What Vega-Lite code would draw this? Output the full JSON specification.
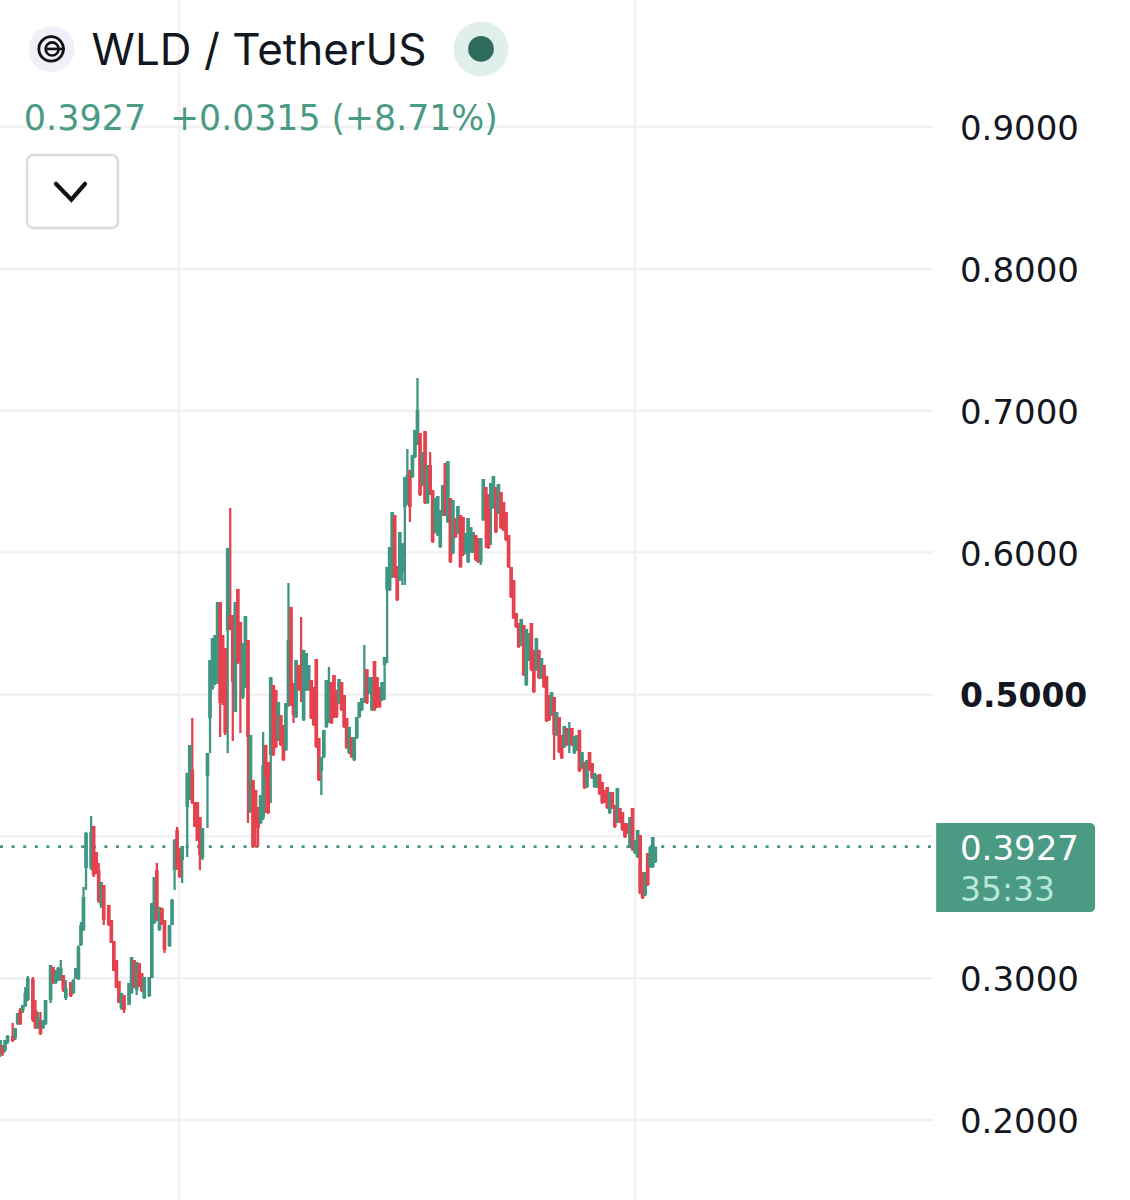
{
"$schema":"https://vega.github.io/schema/vega-lite/v6.json",
"autosize":{"type":"fit","contains":"padding"},
"width":1130,"height":1200,"padding":0,"background":"#ffffff",
"config":{"view":{"stroke":null},"font":"Inter"},
"datasets":{
"candles":[
{"t":0,"o":0.2458,"h":0.2564,"l":0.2444,"c":0.2564},{"t":1,"o":0.2529,"h":0.2529,"l":0.2451,"c":0.2465},{"t":2,"o":0.2494,"h":0.2564,"l":0.2479,"c":0.2564},{"t":3,"o":0.2550,"h":0.2599,"l":0.2536,"c":0.2592},{"t":5,"o":0.2592,"h":0.2684,"l":0.2550,"c":0.2557},{"t":6,"o":0.2578,"h":0.2649,"l":0.2564,"c":0.2649},{"t":7,"o":0.2677,"h":0.2754,"l":0.2670,"c":0.2754},{"t":8,"o":0.2776,"h":0.2790,"l":0.2670,"c":0.2677},{"t":9,"o":0.2769,"h":0.2811,"l":0.2754,"c":0.2811},{"t":10,"o":0.2804,"h":0.2938,"l":0.2797,"c":0.2896},
{"t":11,"o":0.2846,"h":0.3015,"l":0.2839,"c":0.3001},{"t":13,"o":0.2994,"h":0.3008,"l":0.2691,"c":0.2705},{"t":14,"o":0.2776,"h":0.2846,"l":0.2642,"c":0.2649},{"t":15,"o":0.2649,"h":0.2762,"l":0.2642,"c":0.2719},{"t":16,"o":0.2705,"h":0.2762,"l":0.2599,"c":0.2606},{"t":17,"o":0.2649,"h":0.2705,"l":0.2642,"c":0.2705},{"t":18,"o":0.2677,"h":0.2846,"l":0.2670,"c":0.2846},{"t":20,"o":0.2846,"h":0.3093,"l":0.2825,"c":0.3093},{"t":21,"o":0.3079,"h":0.3079,"l":0.2959,"c":0.2966},{"t":22,"o":0.2966,"h":0.3058,"l":0.2959,"c":0.3036},
{"t":23,"o":0.2987,"h":0.3079,"l":0.2980,"c":0.3072},{"t":24,"o":0.2994,"h":0.3128,"l":0.2980,"c":0.3072},{"t":25,"o":0.3022,"h":0.3022,"l":0.2903,"c":0.2917},{"t":26,"o":0.2860,"h":0.2987,"l":0.2846,"c":0.2931},{"t":28,"o":0.2973,"h":0.2973,"l":0.2867,"c":0.2874},{"t":29,"o":0.2896,"h":0.2994,"l":0.2889,"c":0.2987},{"t":30,"o":0.2994,"h":0.3072,"l":0.2994,"c":0.3072},{"t":31,"o":0.2994,"h":0.3234,"l":0.2987,"c":0.3220},{"t":32,"o":0.3234,"h":0.3396,"l":0.3227,"c":0.3375},{"t":33,"o":0.3340,"h":0.3643,"l":0.3333,"c":0.3572},
{"t":34,"o":0.3777,"h":0.4030,"l":0.3622,"c":0.4023},{"t":36,"o":0.3777,"h":0.4143,"l":0.3763,"c":0.4030},{"t":37,"o":0.4073,"h":0.4073,"l":0.3713,"c":0.3727},{"t":38,"o":0.3889,"h":0.3889,"l":0.3734,"c":0.3748},{"t":39,"o":0.3763,"h":0.3812,"l":0.3530,"c":0.3544},{"t":40,"o":0.3509,"h":0.3678,"l":0.3495,"c":0.3678},{"t":41,"o":0.3657,"h":0.3657,"l":0.3375,"c":0.3410},{"t":43,"o":0.3516,"h":0.3516,"l":0.3368,"c":0.3375},{"t":44,"o":0.3410,"h":0.3410,"l":0.3248,"c":0.3248},{"t":45,"o":0.3262,"h":0.3262,"l":0.3051,"c":0.3051},
{"t":46,"o":0.3128,"h":0.3128,"l":0.2931,"c":0.2931},{"t":47,"o":0.2980,"h":0.2980,"l":0.2825,"c":0.2825},{"t":48,"o":0.2790,"h":0.2896,"l":0.2776,"c":0.2896},{"t":49,"o":0.2881,"h":0.2881,"l":0.2754,"c":0.2776},{"t":51,"o":0.2811,"h":0.2966,"l":0.2811,"c":0.2966},{"t":52,"o":0.2896,"h":0.3149,"l":0.2889,"c":0.3149},{"t":53,"o":0.3128,"h":0.3128,"l":0.2931,"c":0.2931},{"t":54,"o":0.2917,"h":0.3114,"l":0.2881,"c":0.3114},{"t":55,"o":0.3107,"h":0.3107,"l":0.2938,"c":0.2945},{"t":56,"o":0.3036,"h":0.3036,"l":0.2903,"c":0.2910},
{"t":57,"o":0.2860,"h":0.3008,"l":0.2853,"c":0.3008},{"t":59,"o":0.2874,"h":0.3008,"l":0.2867,"c":0.3008},{"t":60,"o":0.3001,"h":0.3530,"l":0.3001,"c":0.3530},{"t":61,"o":0.3389,"h":0.3713,"l":0.3382,"c":0.3713},{"t":62,"o":0.3763,"h":0.3812,"l":0.3403,"c":0.3410},{"t":63,"o":0.3340,"h":0.3502,"l":0.3333,"c":0.3502},{"t":64,"o":0.3495,"h":0.3495,"l":0.3375,"c":0.3375},{"t":65,"o":0.3410,"h":0.3410,"l":0.3178,"c":0.3199},{"t":67,"o":0.3227,"h":0.3375,"l":0.3220,"c":0.3375},{"t":68,"o":0.3375,"h":0.3558,"l":0.3375,"c":0.3551},
{"t":69,"o":0.3763,"h":0.3981,"l":0.3622,"c":0.3974},{"t":70,"o":0.4045,"h":0.4066,"l":0.3763,"c":0.3777},{"t":71,"o":0.3882,"h":0.3918,"l":0.3706,"c":0.3713},{"t":72,"o":0.3833,"h":0.3932,"l":0.3671,"c":0.3932},{"t":74,"o":0.4207,"h":0.4447,"l":0.3854,"c":0.4447},{"t":75,"o":0.4277,"h":0.4644,"l":0.4256,"c":0.4644},{"t":76,"o":0.4468,"h":0.4834,"l":0.4228,"c":0.4235},{"t":77,"o":0.4242,"h":0.4242,"l":0.4066,"c":0.4066},{"t":78,"o":0.4242,"h":0.4242,"l":0.3967,"c":0.3967},{"t":79,"o":0.4136,"h":0.4136,"l":0.3763,"c":0.3868},
{"t":80,"o":0.3847,"h":0.4059,"l":0.3833,"c":0.4059},{"t":82,"o":0.4425,"h":0.4587,"l":0.4059,"c":0.4587},{"t":83,"o":0.4834,"h":0.5243,"l":0.4587,"c":0.5243},{"t":84,"o":0.5046,"h":0.5398,"l":0.5032,"c":0.5398},{"t":85,"o":0.5081,"h":0.5419,"l":0.5067,"c":0.5419},{"t":86,"o":0.5081,"h":0.5652,"l":0.5074,"c":0.5652},{"t":87,"o":0.5652,"h":0.5652,"l":0.4700,"c":0.4940},{"t":88,"o":0.5419,"h":0.5419,"l":0.4926,"c":0.4940},{"t":89,"o":0.5328,"h":0.5328,"l":0.4714,"c":0.4728},{"t":90,"o":0.5454,"h":0.6033,"l":0.4587,"c":0.6033},
{"t":91,"o":0.5560,"h":0.6315,"l":0.5454,"c":0.5454},{"t":92,"o":0.5560,"h":0.5560,"l":0.4672,"c":0.5088},{"t":93,"o":0.4876,"h":0.5652,"l":0.4876,"c":0.5652},{"t":94,"o":0.5744,"h":0.5744,"l":0.5215,"c":0.5229},{"t":95,"o":0.5511,"h":0.5511,"l":0.4728,"c":0.5229},{"t":96,"o":0.4982,"h":0.5363,"l":0.4968,"c":0.5363},{"t":97,"o":0.5053,"h":0.5553,"l":0.5046,"c":0.5553},{"t":98,"o":0.5384,"h":0.5384,"l":0.4094,"c":0.4700},{"t":99,"o":0.4171,"h":0.4714,"l":0.4164,"c":0.4714},{"t":100,"o":0.4397,"h":0.4397,"l":0.3918,"c":0.3925},
{"t":101,"o":0.4327,"h":0.4327,"l":0.3925,"c":0.4059},{"t":102,"o":0.4207,"h":0.4207,"l":0.3925,"c":0.4059},{"t":103,"o":0.4094,"h":0.4291,"l":0.4087,"c":0.4291},{"t":104,"o":0.4129,"h":0.4735,"l":0.4115,"c":0.4503},{"t":105,"o":0.4644,"h":0.4644,"l":0.4164,"c":0.4418},{"t":106,"o":0.4524,"h":0.4524,"l":0.4157,"c":0.4164},{"t":107,"o":0.4573,"h":0.5123,"l":0.4235,"c":0.5123},{"t":108,"o":0.5067,"h":0.5067,"l":0.4566,"c":0.4573},{"t":109,"o":0.5032,"h":0.5032,"l":0.4623,"c":0.4630},{"t":110,"o":0.4679,"h":0.4947,"l":0.4672,"c":0.4947},
{"t":111,"o":0.4855,"h":0.4855,"l":0.4637,"c":0.4644},{"t":112,"o":0.4785,"h":0.4785,"l":0.4531,"c":0.4538},{"t":113,"o":0.4609,"h":0.4940,"l":0.4602,"c":0.4940},{"t":114,"o":0.4926,"h":0.5786,"l":0.4912,"c":0.5384},{"t":115,"o":0.5617,"h":0.5617,"l":0.4919,"c":0.4926},{"t":116,"o":0.5081,"h":0.5081,"l":0.4799,"c":0.4855},{"t":117,"o":0.4841,"h":0.5243,"l":0.4834,"c":0.5243},{"t":118,"o":0.5208,"h":0.5208,"l":0.5025,"c":0.5032},{"t":119,"o":0.5208,"h":0.5546,"l":0.4947,"c":0.5032},{"t":120,"o":0.4820,"h":0.5314,"l":0.4813,"c":0.5314},
{"t":121,"o":0.5032,"h":0.5292,"l":0.5025,"c":0.5292},{"t":122,"o":0.5032,"h":0.5208,"l":0.5025,"c":0.5208},{"t":123,"o":0.5102,"h":0.5102,"l":0.4827,"c":0.4834},{"t":124,"o":0.5053,"h":0.5053,"l":0.4778,"c":0.4785},{"t":125,"o":0.5250,"h":0.5250,"l":0.4623,"c":0.4630},{"t":126,"o":0.4693,"h":0.4693,"l":0.4390,"c":0.4397},{"t":127,"o":0.4460,"h":0.4559,"l":0.4291,"c":0.4559},{"t":128,"o":0.4559,"h":0.4750,"l":0.4552,"c":0.4750},{"t":129,"o":0.4771,"h":0.5102,"l":0.4764,"c":0.5102},{"t":130,"o":0.4799,"h":0.5194,"l":0.4799,"c":0.5032},
{"t":131,"o":0.5088,"h":0.5088,"l":0.4792,"c":0.4799},{"t":132,"o":0.5137,"h":0.5137,"l":0.4834,"c":0.4841},{"t":133,"o":0.5032,"h":0.5032,"l":0.4834,"c":0.4841},{"t":134,"o":0.4940,"h":0.5109,"l":0.4933,"c":0.5109},{"t":135,"o":0.5088,"h":0.5088,"l":0.4884,"c":0.4891},{"t":136,"o":0.4996,"h":0.4996,"l":0.4764,"c":0.4771},{"t":137,"o":0.4834,"h":0.4834,"l":0.4616,"c":0.4623},{"t":138,"o":0.4587,"h":0.4771,"l":0.4580,"c":0.4771},{"t":139,"o":0.4700,"h":0.4700,"l":0.4552,"c":0.4559},{"t":140,"o":0.4538,"h":0.4700,"l":0.4531,"c":0.4700},
{"t":141,"o":0.4693,"h":0.4841,"l":0.4686,"c":0.4841},{"t":142,"o":0.4841,"h":0.4947,"l":0.4834,"c":0.4947},{"t":143,"o":0.4891,"h":0.4975,"l":0.4884,"c":0.4975},{"t":144,"o":0.4940,"h":0.5349,"l":0.4940,"c":0.4975},{"t":145,"o":0.5179,"h":0.5179,"l":0.4933,"c":0.4940},{"t":146,"o":0.5010,"h":0.5123,"l":0.5003,"c":0.5123},{"t":147,"o":0.4891,"h":0.5123,"l":0.4884,"c":0.5123},{"t":148,"o":0.5236,"h":0.5236,"l":0.4884,"c":0.4891},{"t":149,"o":0.5123,"h":0.5123,"l":0.4905,"c":0.4912},{"t":150,"o":0.5053,"h":0.5053,"l":0.4905,"c":0.4912},
{"t":151,"o":0.4961,"h":0.5088,"l":0.4954,"c":0.5088},{"t":152,"o":0.5208,"h":0.5264,"l":0.4961,"c":0.5264},{"t":153,"o":0.5736,"h":0.5899,"l":0.5222,"c":0.5899},{"t":154,"o":0.5736,"h":0.6040,"l":0.5729,"c":0.6040},{"t":155,"o":0.5828,"h":0.6286,"l":0.5821,"c":0.6286},{"t":156,"o":0.6265,"h":0.6265,"l":0.5821,"c":0.5828},{"t":157,"o":0.5906,"h":0.5906,"l":0.5659,"c":0.5666},{"t":158,"o":0.5807,"h":0.6145,"l":0.5800,"c":0.6145},{"t":159,"o":0.5863,"h":0.6068,"l":0.5772,"c":0.6068},{"t":160,"o":0.6322,"h":0.6533,"l":0.5772,"c":0.6533},
{"t":161,"o":0.6336,"h":0.6731,"l":0.6336,"c":0.6547},{"t":162,"o":0.6583,"h":0.6583,"l":0.6216,"c":0.6322},{"t":163,"o":0.6533,"h":0.6688,"l":0.6526,"c":0.6688},{"t":164,"o":0.6674,"h":0.6865,"l":0.6667,"c":0.6865},{"t":165,"o":0.6759,"h":0.7231,"l":0.6759,"c":0.7006},{"t":166,"o":0.6843,"h":0.6843,"l":0.6399,"c":0.6406},{"t":167,"o":0.6477,"h":0.6709,"l":0.6470,"c":0.6709},{"t":168,"o":0.6857,"h":0.6857,"l":0.6343,"c":0.6350},{"t":169,"o":0.6350,"h":0.6618,"l":0.6343,"c":0.6618},{"t":170,"o":0.6618,"h":0.6709,"l":0.6406,"c":0.6441},
{"t":171,"o":0.6441,"h":0.6441,"l":0.6068,"c":0.6075},{"t":172,"o":0.6145,"h":0.6385,"l":0.6138,"c":0.6385},{"t":173,"o":0.6124,"h":0.6399,"l":0.6117,"c":0.6399},{"t":174,"o":0.6040,"h":0.6300,"l":0.6033,"c":0.6300},{"t":175,"o":0.6265,"h":0.6477,"l":0.6258,"c":0.6477},{"t":176,"o":0.6632,"h":0.6632,"l":0.6258,"c":0.6265},{"t":177,"o":0.6216,"h":0.6646,"l":0.6209,"c":0.6646},{"t":178,"o":0.6385,"h":0.6385,"l":0.5927,"c":0.5934},{"t":179,"o":0.5997,"h":0.6371,"l":0.5990,"c":0.6371},{"t":180,"o":0.6244,"h":0.6244,"l":0.6103,"c":0.6110},
{"t":181,"o":0.6138,"h":0.6329,"l":0.6131,"c":0.6329},{"t":182,"o":0.6265,"h":0.6265,"l":0.5892,"c":0.5899},{"t":183,"o":0.6251,"h":0.6251,"l":0.5976,"c":0.5983},{"t":184,"o":0.5997,"h":0.6138,"l":0.5990,"c":0.6138},{"t":185,"o":0.5934,"h":0.6244,"l":0.5927,"c":0.6244},{"t":186,"o":0.6004,"h":0.6180,"l":0.5997,"c":0.6180},{"t":187,"o":0.6004,"h":0.6145,"l":0.5997,"c":0.6145},{"t":188,"o":0.6124,"h":0.6124,"l":0.5941,"c":0.5948},{"t":189,"o":0.6103,"h":0.6103,"l":0.5927,"c":0.5934},{"t":190,"o":0.5934,"h":0.6103,"l":0.5913,"c":0.6103},
{"t":191,"o":0.6230,"h":0.6519,"l":0.6223,"c":0.6519},{"t":192,"o":0.6463,"h":0.6463,"l":0.6033,"c":0.6230},{"t":193,"o":0.6413,"h":0.6413,"l":0.6026,"c":0.6033},{"t":194,"o":0.6315,"h":0.6491,"l":0.6054,"c":0.6491},{"t":195,"o":0.6315,"h":0.6540,"l":0.6308,"c":0.6540},{"t":196,"o":0.6463,"h":0.6463,"l":0.6138,"c":0.6145},{"t":197,"o":0.6279,"h":0.6484,"l":0.6272,"c":0.6484},{"t":198,"o":0.6427,"h":0.6427,"l":0.6167,"c":0.6174},{"t":199,"o":0.6357,"h":0.6357,"l":0.6152,"c":0.6159},{"t":200,"o":0.6286,"h":0.6286,"l":0.6082,"c":0.6089},
{"t":201,"o":0.6124,"h":0.6124,"l":0.5892,"c":0.5899},{"t":202,"o":0.5899,"h":0.5899,"l":0.5680,"c":0.5687},{"t":203,"o":0.5807,"h":0.5807,"l":0.5532,"c":0.5539},{"t":204,"o":0.5574,"h":0.5574,"l":0.5469,"c":0.5476},{"t":205,"o":0.5504,"h":0.5504,"l":0.5328,"c":0.5335},{"t":206,"o":0.5349,"h":0.5532,"l":0.5342,"c":0.5532},{"t":207,"o":0.5490,"h":0.5490,"l":0.5130,"c":0.5137},{"t":208,"o":0.5067,"h":0.5462,"l":0.5060,"c":0.5462},{"t":209,"o":0.5243,"h":0.5433,"l":0.5236,"c":0.5433},{"t":210,"o":0.5504,"h":0.5504,"l":0.5166,"c":0.5173},
{"t":211,"o":0.5314,"h":0.5314,"l":0.5011,"c":0.5018},{"t":212,"o":0.5173,"h":0.5398,"l":0.5166,"c":0.5398},{"t":213,"o":0.5314,"h":0.5314,"l":0.5109,"c":0.5116},{"t":214,"o":0.5116,"h":0.5257,"l":0.5109,"c":0.5257},{"t":215,"o":0.5208,"h":0.5208,"l":0.5046,"c":0.5053},{"t":216,"o":0.5130,"h":0.5130,"l":0.4806,"c":0.4813},{"t":217,"o":0.4996,"h":0.4996,"l":0.4813,"c":0.4820},{"t":218,"o":0.4855,"h":0.5017,"l":0.4848,"c":0.5017},{"t":219,"o":0.4982,"h":0.4982,"l":0.4538,"c":0.4714},{"t":220,"o":0.4714,"h":0.4876,"l":0.4707,"c":0.4876},
{"t":221,"o":0.4841,"h":0.4841,"l":0.4587,"c":0.4594},{"t":222,"o":0.4714,"h":0.4714,"l":0.4545,"c":0.4552},{"t":223,"o":0.4630,"h":0.4778,"l":0.4623,"c":0.4778},{"t":224,"o":0.4764,"h":0.4764,"l":0.4637,"c":0.4644},{"t":225,"o":0.4644,"h":0.4806,"l":0.4587,"c":0.4750},{"t":226,"o":0.4764,"h":0.4764,"l":0.4637,"c":0.4644},{"t":227,"o":0.4587,"h":0.4707,"l":0.4580,"c":0.4707},{"t":228,"o":0.4609,"h":0.4714,"l":0.4602,"c":0.4714},{"t":229,"o":0.4750,"h":0.4750,"l":0.4453,"c":0.4460},{"t":230,"o":0.4481,"h":0.4594,"l":0.4474,"c":0.4594},
{"t":231,"o":0.4524,"h":0.4524,"l":0.4334,"c":0.4341},{"t":232,"o":0.4348,"h":0.4538,"l":0.4341,"c":0.4538},{"t":233,"o":0.4594,"h":0.4594,"l":0.4460,"c":0.4468},{"t":234,"o":0.4517,"h":0.4517,"l":0.4404,"c":0.4411},{"t":235,"o":0.4348,"h":0.4446,"l":0.4341,"c":0.4446},{"t":236,"o":0.4348,"h":0.4432,"l":0.4341,"c":0.4432},{"t":237,"o":0.4439,"h":0.4439,"l":0.4291,"c":0.4298},{"t":238,"o":0.4383,"h":0.4383,"l":0.4228,"c":0.4235},{"t":239,"o":0.4327,"h":0.4327,"l":0.4235,"c":0.4242},{"t":240,"o":0.4348,"h":0.4348,"l":0.4193,"c":0.4200},
{"t":241,"o":0.4164,"h":0.4312,"l":0.4157,"c":0.4312},{"t":242,"o":0.4312,"h":0.4312,"l":0.4193,"c":0.4200},{"t":243,"o":0.4221,"h":0.4221,"l":0.4059,"c":0.4066},{"t":244,"o":0.4101,"h":0.4340,"l":0.4094,"c":0.4340},{"t":245,"o":0.4200,"h":0.4200,"l":0.4094,"c":0.4101},{"t":246,"o":0.4171,"h":0.4171,"l":0.4038,"c":0.4045},{"t":247,"o":0.4094,"h":0.4094,"l":0.3988,"c":0.3995},{"t":248,"o":0.4094,"h":0.4094,"l":0.4017,"c":0.4024},{"t":249,"o":0.3925,"h":0.4136,"l":0.3918,"c":0.4136},{"t":250,"o":0.4200,"h":0.4200,"l":0.3897,"c":0.3904},
{"t":251,"o":0.3882,"h":0.3974,"l":0.3875,"c":0.3974},{"t":252,"o":0.3854,"h":0.4045,"l":0.3847,"c":0.4045},{"t":253,"o":0.4009,"h":0.4009,"l":0.3593,"c":0.3600},{"t":254,"o":0.3748,"h":0.3748,"l":0.3558,"c":0.3565},{"t":255,"o":0.3586,"h":0.3748,"l":0.3579,"c":0.3748},{"t":256,"o":0.3882,"h":0.3882,"l":0.3650,"c":0.3657},{"t":257,"o":0.3784,"h":0.3925,"l":0.3777,"c":0.3925},{"t":258,"o":0.3784,"h":0.3995,"l":0.3777,"c":0.3995},{"t":259,"o":0.3819,"h":0.3927,"l":0.3812,"c":0.3927}
],
"levels":[{"p":0.2},{"p":0.3},{"p":0.4},{"p":0.5},{"p":0.6},{"p":0.7},{"p":0.8},{"p":0.9}],
"sessions":[{"t":70.75},{"t":251}],
"chevron":[{"t":22.1,"p":0.8600,"s":1},{"t":28.2,"p":0.8488,"s":2},{"t":33.6,"p":0.8600,"s":3}]
},
"layer":[
{"data":{"name":"levels"},"mark":{"type":"rule","stroke":"#f1f1f3","strokeWidth":2.5,"clip":true},
 "encoding":{"x":{"datum":0,"type":"quantitative","axis":null,"scale":{"domain":[0,446.6],"nice":false,"zero":false}},"x2":{"datum":368.8},
 "y":{"field":"p","type":"quantitative","axis":null,"scale":{"domain":[0.1436,0.9896],"nice":false,"zero":false}}}},
{"data":{"name":"levels"},"transform":[{"filter":"datum.p!=0.4&&datum.p!=0.5"}],"mark":{"type":"text","align":"left","baseline":"middle","dy":3,"font":"DejaVu Sans","fontSize":34,"fill":"#131722"},
 "encoding":{"x":{"datum":379.4,"type":"quantitative","axis":null},"y":{"field":"p","type":"quantitative","axis":null},"text":{"field":"p","type":"quantitative","format":".4f"}}},
{"data":{"name":"levels"},"transform":[{"filter":"datum.p==0.5"}],"mark":{"type":"text","align":"left","baseline":"middle","dy":3,"font":"DejaVu Sans","fontSize":33,"fontWeight":"bold","fill":"#131722"},
 "encoding":{"x":{"datum":379.4,"type":"quantitative","axis":null},"y":{"field":"p","type":"quantitative","axis":null},"text":{"field":"p","type":"quantitative","format":".4f"}}},
{"data":{"name":"sessions"},"mark":{"type":"rule","stroke":"#f2f2f4","strokeWidth":2.5,"clip":true},"encoding":{"x":{"field":"t","type":"quantitative","axis":null}}},
{"data":{"values":[{"last":0.3927}]},"mark":{"type":"rule","stroke":"#3f9682","strokeWidth":2.6,"strokeDash":[3,8.6],"clip":true},
 "encoding":{"x":{"datum":0,"type":"quantitative","axis":null},"x2":{"datum":370},"y":{"field":"last","type":"quantitative","axis":null}}},
{"data":{"name":"candles"},"mark":{"type":"rule","strokeWidth":2.3,"clip":true},
 "encoding":{"x":{"field":"t","type":"quantitative","axis":null},"y":{"field":"l","type":"quantitative","axis":null},"y2":{"field":"h"},
 "color":{"condition":{"test":"datum.c>=datum.o","value":"#3f9682"},"value":"#e4424d"}}},
{"data":{"name":"candles"},"mark":{"type":"rule","strokeWidth":3.7,"clip":true},
 "encoding":{"x":{"field":"t","type":"quantitative","axis":null},"y":{"field":"o","type":"quantitative","axis":null},"y2":{"field":"c"},
 "color":{"condition":{"test":"datum.c>=datum.o","value":"#3f9682"},"value":"#e4424d"}}},
{"data":{"values":[{"n":"logo bg"}]},"mark":{"type":"point","filled":true,"fill":"#f0f1f8","stroke":null,"opacity":1,"size":2124},"encoding":{"x":{"datum":20.4,"type":"quantitative","axis":null},"y":{"datum":0.9551,"type":"quantitative","axis":null}}},
{"data":{"values":[{"n":"logo ring"}]},"mark":{"type":"point","filled":false,"stroke":"#111111","strokeWidth":2.8,"opacity":1,"size":600},"encoding":{"x":{"datum":20.2,"type":"quantitative","axis":null},"y":{"datum":0.9551,"type":"quantitative","axis":null}}},
{"data":{"values":[{"n":"logo inner"}]},"mark":{"type":"point","filled":false,"stroke":"#111111","strokeWidth":2.6,"opacity":1,"size":170},"encoding":{"x":{"datum":20.6,"type":"quantitative","axis":null},"y":{"datum":0.9551,"type":"quantitative","axis":null}}},
{"data":{"values":[{"n":"logo bar"}]},"mark":{"type":"rule","stroke":"#111111","strokeWidth":2.6},"encoding":{"x":{"datum":18.2,"type":"quantitative","axis":null},"x2":{"datum":25.6},"y":{"datum":0.9551,"type":"quantitative","axis":null}}},
{"data":{"values":[{"label":"WLD / TetherUS"}]},"mark":{"type":"text","align":"left","baseline":"alphabetic","font":"Inter","fontSize":44,"fill":"#131722"},"encoding":{"x":{"datum":36.2,"type":"quantitative","axis":null},"y":{"datum":0.9438,"type":"quantitative","axis":null},"text":{"field":"label"}}},
{"data":{"values":[{"n":"status halo"}]},"mark":{"type":"point","filled":true,"fill":"#e0efec","stroke":null,"opacity":1,"size":3019},"encoding":{"x":{"datum":190.1,"type":"quantitative","axis":null},"y":{"datum":0.9551,"type":"quantitative","axis":null}}},
{"data":{"values":[{"n":"status dot"}]},"mark":{"type":"point","filled":true,"fill":"#2f6b5b","stroke":null,"opacity":1,"size":660},"encoding":{"x":{"datum":190.1,"type":"quantitative","axis":null},"y":{"datum":0.9551,"type":"quantitative","axis":null}}},
{"data":{"values":[{"label":"0.3927"}]},"mark":{"type":"text","align":"left","baseline":"alphabetic","font":"DejaVu Sans","fontSize":35,"fill":"#4a9a84"},"encoding":{"x":{"datum":9.4,"type":"quantitative","axis":null},"y":{"datum":0.8979,"type":"quantitative","axis":null},"text":{"field":"label"}}},
{"data":{"values":[{"label":"+0.0315 (+8.71%)"}]},"mark":{"type":"text","align":"left","baseline":"alphabetic","font":"DejaVu Sans","fontSize":34.7,"fill":"#4a9a84"},"encoding":{"x":{"datum":67.2,"type":"quantitative","axis":null},"y":{"datum":0.8979,"type":"quantitative","axis":null},"text":{"field":"label"}}},
{"data":{"values":[{"n":"toggle"}]},"mark":{"type":"rect","fill":"#ffffff","stroke":"#dcdcdc","strokeWidth":2.5,"cornerRadius":6},"encoding":{"x":{"datum":10.7,"type":"quantitative","axis":null},"x2":{"datum":46.6},"y":{"datum":0.8803,"type":"quantitative","axis":null},"y2":{"datum":0.8289}}},
{"data":{"name":"chevron"},"mark":{"type":"line","stroke":"#111111","strokeWidth":4.2,"strokeCap":"round","strokeJoin":"miter"},"encoding":{"x":{"field":"t","type":"quantitative","axis":null},"y":{"field":"p","type":"quantitative","axis":null},"order":{"field":"s"}}},
{"data":{"values":[{"n":"last price tag"}]},"mark":{"type":"rect","fill":"#4a9a84","cornerRadiusTopRight":5,"cornerRadiusBottomRight":5},"encoding":{"x":{"datum":370,"type":"quantitative","axis":null},"x2":{"datum":432.8},"y":{"datum":0.4094,"type":"quantitative","axis":null},"y2":{"datum":0.3466}}},
{"data":{"values":[{"label":"0.3927"}]},"mark":{"type":"text","align":"left","baseline":"alphabetic","font":"DejaVu Sans","fontSize":34,"fill":"#ffffff"},"encoding":{"x":{"datum":379.4,"type":"quantitative","axis":null},"y":{"datum":0.3833,"type":"quantitative","axis":null},"text":{"field":"label"}}},
{"data":{"values":[{"label":"35:33"}]},"mark":{"type":"text","align":"left","baseline":"alphabetic","font":"DejaVu Sans","fontSize":33,"fill":"#b5e8d8"},"encoding":{"x":{"datum":379.4,"type":"quantitative","axis":null},"y":{"datum":0.3544,"type":"quantitative","axis":null},"text":{"field":"label"}}}
]
}
